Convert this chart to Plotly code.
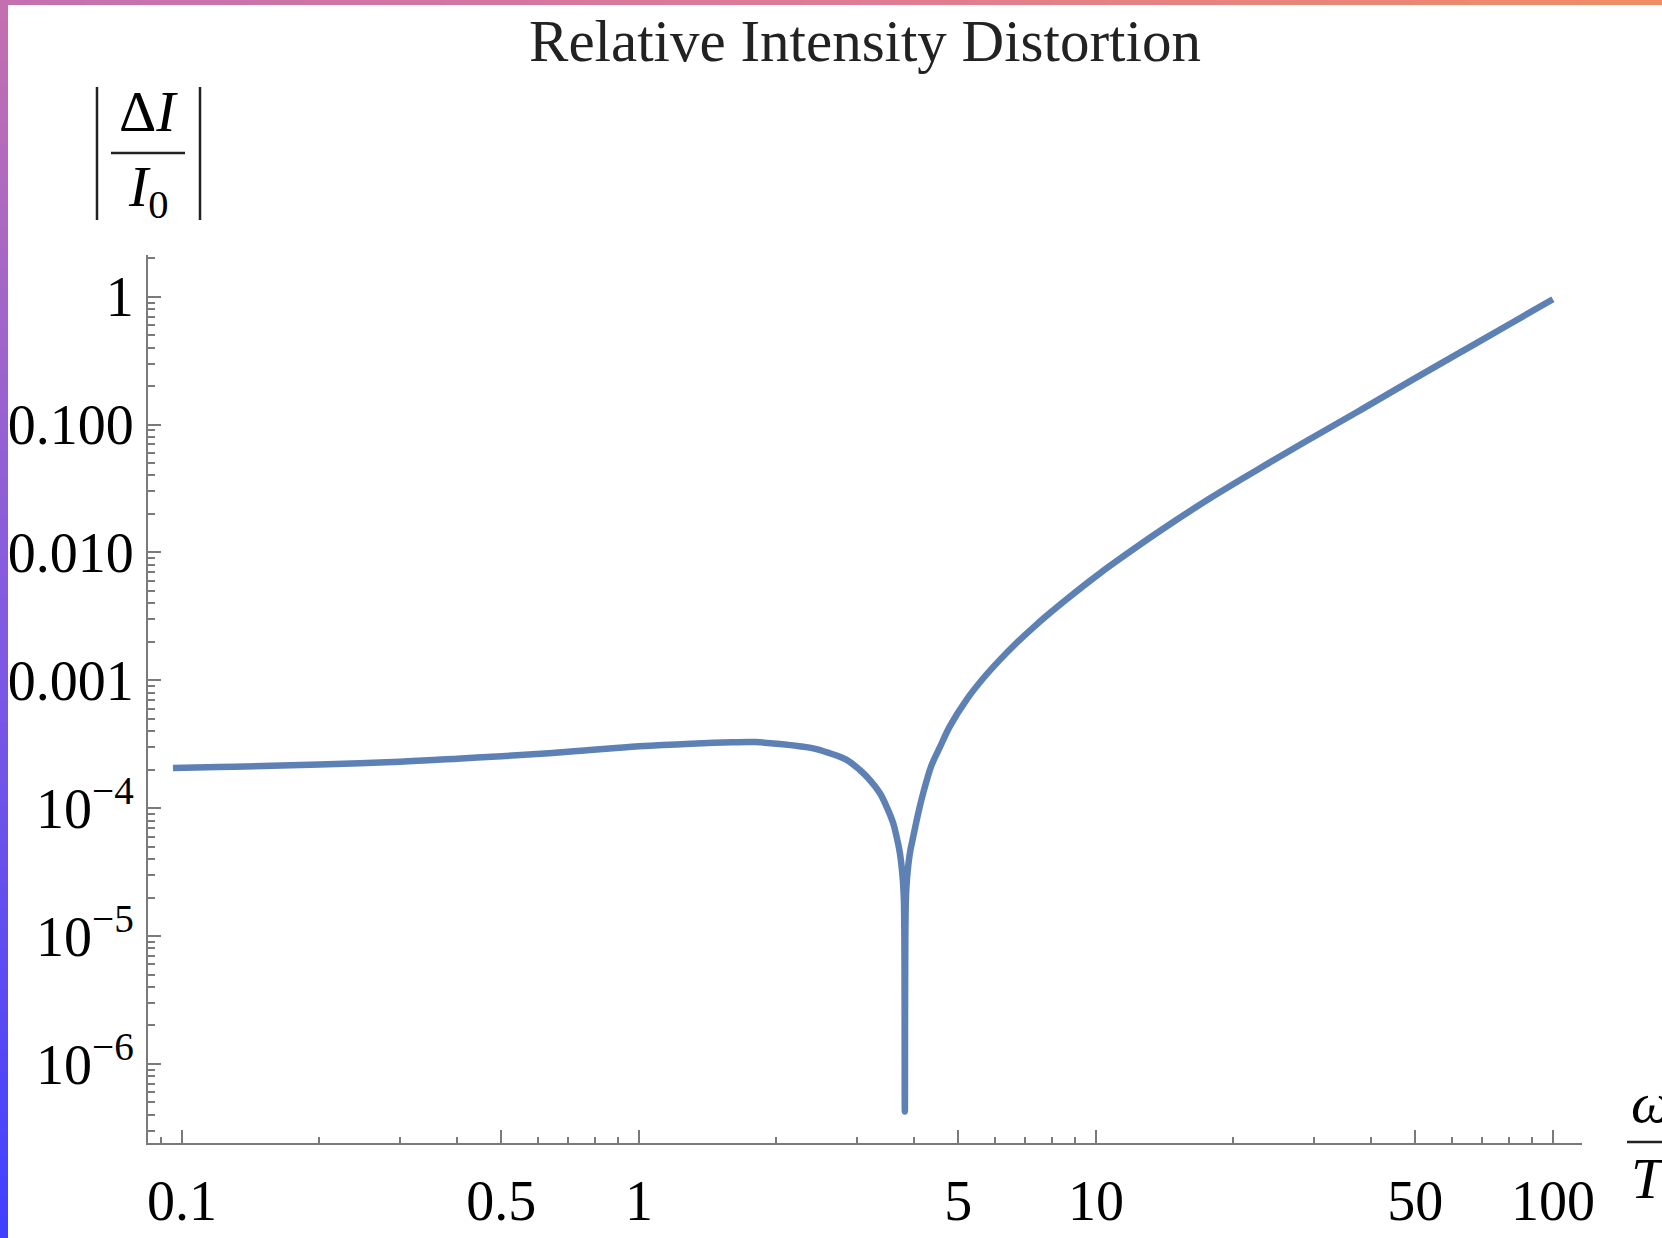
import plotly.graph_objects as go
import math

# ---- data ----
omega_over_T = [0.0956, 0.12, 0.15, 0.2, 0.3, 0.4, 0.5, 0.7, 1.0, 1.3, 1.6, 1.8, 2.035,
                2.407, 2.618, 2.848, 3.045, 3.203, 3.369, 3.483, 3.602, 3.663, 3.725,
                3.776, 3.801, 3.819, 3.838, 3.864, 3.917, 3.984, 4.086, 4.188, 4.37,
                4.557, 4.79, 5.21, 5.67, 6.17, 6.71, 7.29, 7.93, 8.63, 9.38, 10.2,
                10.73, 13.8, 17.77, 22.9, 29.4, 37.8, 48.6, 62.7, 80.5, 100]
rel_distortion = [2.06e-4, 2.1e-4, 2.14e-4, 2.2e-4, 2.31e-4, 2.44e-4, 2.55e-4, 2.76e-4,
                  3.05e-4, 3.2e-4, 3.28e-4, 3.29e-4, 3.18e-4, 2.94e-4, 2.69e-4, 2.39e-4,
                  1.99e-4, 1.66e-4, 1.31e-4, 1.03e-4, 7.64e-5, 6.0e-5, 4.45e-5, 2.92e-5,
                  1.92e-5, 4.25e-7, 1.92e-5, 2.92e-5, 4.45e-5, 6.0e-5, 9.14e-5, 1.31e-4,
                  2.17e-4, 3.0e-4, 4.37e-4, 7.05e-4, 1.038e-3, 1.452e-3, 1.968e-3,
                  2.588e-3, 3.357e-3, 4.305e-3, 5.458e-3, 6.87e-3, 7.85e-3, 1.472e-2,
                  2.655e-2, 4.58e-2, 7.71e-2, 0.129, 0.218, 0.367, 0.612, 0.955]

x_tickvals = [0.1, 0.5, 1, 5, 10, 50, 100]
x_ticktext = ["0.1", "0.5", "1", "5", "10", "50", "100"]
x_minor = [0.09, 0.2, 0.3, 0.4, 0.6, 0.7, 0.8, 0.9, 2, 3, 4, 6, 7, 8, 9,
           20, 30, 40, 60, 70, 80, 90]
y_tickvals = [1e-6, 1e-5, 1e-4, 1e-3, 1e-2, 1e-1, 1]
y_ticktext = ["10<sup>\u22126</sup>", "10<sup>\u22125</sup>", "10<sup>\u22124</sup>",
              "0.001", "0.010", "0.100", "1"]
y_minor = [m * 10.0 ** k for k in range(-7, 1) for m in range(2, 10)]

# ---- geometry ----
W, H = 1662, 1238
L, R, T, B = 148, 80, 255, 95
PW, PH = W - L - R, H - T - B
FONT = "Liberation Serif, Times New Roman, serif"
AX = "#7a7a7a"
INK = "#222222"


def px(x):
    return (x - L) / PW


def py(y):
    return (H - B - y) / PH


fig = go.Figure()
fig.add_trace(go.Scatter(x=omega_over_T, y=rel_distortion, mode="lines",
                         line=dict(color="#5E81B5", width=6.5, shape="spline", smoothing=1.0),
                         hoverinfo="skip"))

axis_common = dict(showgrid=False, zeroline=False, showline=True, linecolor=AX, linewidth=2,
                   ticks="inside", tickcolor=AX, tickwidth=2, ticklen=13, automargin=False,
                   tickfont=dict(family=FONT, size=56, color="black"))

fig.update_layout(
    width=W, height=H,
    margin=dict(l=L, r=R, t=T, b=B, pad=0, autoexpand=False),
    paper_bgcolor="white", plot_bgcolor="white",
    showlegend=False,
    title=dict(text="Relative Intensity Distortion", x=0.5, xref="paper", xanchor="center",
               y=1 - 40 / H, yref="container", yanchor="middle", automargin=False,
               font=dict(family=FONT, size=59, color=INK)),
    xaxis=dict(type="log", range=[math.log10(0.0843), math.log10(115.8)],
               tickmode="array", tickvals=x_tickvals, ticktext=x_ticktext,
               minor=dict(tickmode="array", tickvals=x_minor, ticks="inside", ticklen=6,
                          tickcolor=AX, tickwidth=2),
               ticklabelstandoff=8,
               **axis_common),
    yaxis=dict(type="log", range=[math.log10(2.41e-7), math.log10(2.12)],
               tickmode="array", tickvals=y_tickvals, ticktext=y_ticktext,
               minor=dict(tickmode="array", tickvals=y_minor, ticks="inside", ticklen=7,
                          tickcolor=AX, tickwidth=2),
               ticklabelstandoff=1,
               **axis_common),
)

shapes = []
ann = []

# y-axis label |ΔI / I0|
for xb in (97, 200):
    shapes.append(dict(type="line", xref="paper", yref="paper", x0=px(xb), x1=px(xb),
                       y0=py(87), y1=py(220), line=dict(color=INK, width=2.5)))
shapes.append(dict(type="line", xref="paper", yref="paper", x0=px(111), x1=px(185),
                   y0=py(153), y1=py(153), line=dict(color=INK, width=2.5)))
ann.append(dict(text="\u0394<i>I</i>", x=px(148), y=py(111), xref="paper", yref="paper",
                xanchor="center", yanchor="middle", showarrow=False,
                font=dict(family=FONT, size=58, color="black")))
ann.append(dict(text="<i>I</i><sub>0</sub>", x=px(148), y=py(190), xref="paper", yref="paper",
                xanchor="center", yanchor="middle", showarrow=False,
                font=dict(family=FONT, size=58, color="black")))

# x-axis label ω / T (cut at the right edge)
shapes.append(dict(type="line", xref="paper", yref="paper", x0=px(1627), x1=px(1700),
                   y0=py(1142), y1=py(1142), line=dict(color=INK, width=2.5)))
ann.append(dict(text="<i>\u03c9</i>", x=px(1629), y=py(1102), xref="paper", yref="paper",
                xanchor="left", yanchor="middle", showarrow=False,
                font=dict(family=FONT, size=58, color="black")))
ann.append(dict(text="<i>T</i>", x=px(1629), y=py(1178), xref="paper", yref="paper",
                xanchor="left", yanchor="middle", showarrow=False,
                font=dict(family=FONT, size=58, color="black")))


# gradient frame (left and top)
def lerp(c1, c2, t):
    return "rgb(%d,%d,%d)" % tuple(round(a + (b - a) * t) for a, b in zip(c1, c2))


left_stops = [(0.0, (196, 112, 176)), (0.5, (130, 90, 225)), (1.0, (64, 64, 255))]
top_stops = [(0.0, (196, 112, 176)), (0.5, (222, 124, 150)), (1.0, (240, 140, 100))]


def grad(stops, t):
    for (t0, c0), (t1, c1) in zip(stops, stops[1:]):
        if t <= t1:
            return lerp(c0, c1, (t - t0) / (t1 - t0))
    return lerp(stops[-1][1], stops[-1][1], 0)


N = 60
for i in range(N):
    y0, y1 = H * i / N, H * (i + 1) / N + 1
    shapes.append(dict(type="rect", xref="paper", yref="paper", x0=px(0), x1=px(8),
                       y0=py(y1), y1=py(y0), line=dict(width=0),
                       fillcolor=grad(left_stops, (i + 0.5) / N), layer="above"))
for i in range(N):
    x0, x1 = W * i / N, W * (i + 1) / N + 1
    shapes.append(dict(type="rect", xref="paper", yref="paper", x0=px(max(x0, 0)), x1=px(x1),
                       y0=py(5), y1=py(0), line=dict(width=0),
                       fillcolor=grad(top_stops, (i + 0.5) / N), layer="above"))

fig.update_layout(shapes=shapes, annotations=ann)
fig.write_html("out.html")
